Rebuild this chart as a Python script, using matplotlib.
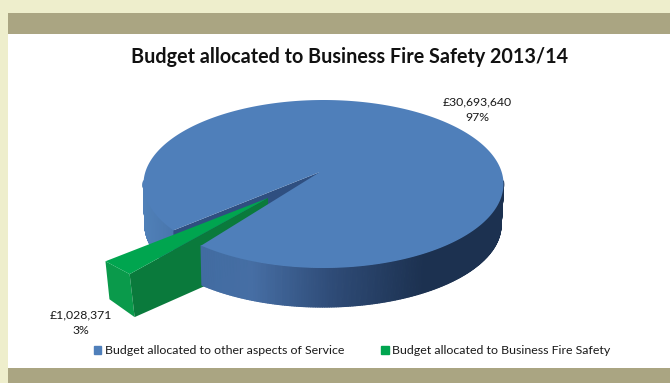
import numpy as np
import matplotlib
matplotlib.use("Agg")
import matplotlib.pyplot as plt
from matplotlib.colors import LinearSegmentedColormap
from matplotlib.patches import Patch, Rectangle
from matplotlib.collections import PolyCollection

title = "Budget allocated to Business Fire Safety 2013/14"
categories = ["Budget allocated to other aspects of Service",
              "Budget allocated to Business Fire Safety"]
values = [30693640, 1028371]
colors = ["#4f7fba", "#00a54f"]

plt.rcParams["font.family"] = ["Lato", "DejaVu Sans"]
fig = plt.figure(figsize=(6.7, 3.83), dpi=100)
ax = fig.add_axes([0, 0, 1, 1])
ax.set_xlim(0, 670)
ax.set_ylim(383, 0)
ax.axis("off")

# slide background and bands
ax.add_patch(Rectangle((0, 0), 670, 383, color="#eeeecc", lw=0))
ax.add_patch(Rectangle((8, 13), 662, 355, color="white", lw=0))
ax.add_patch(Rectangle((8, 13), 662, 21, color="#aaa582", lw=0))
ax.add_patch(Rectangle((8, 368), 662, 15, color="#aaa582", lw=0))

# tilted-disc projection of the pie (screen y grows downward)
APEX = np.array([320.0, 172.0])
TOP_C, TOP_R = np.array([323.5, 184.0]), np.array([180.0, 84.0])
BOT_C, BOT_R = np.array([323.0, 225.0]), np.array([178.0, 82.0])


def rim(center, radius, deg):
    t = np.radians(np.asarray(deg, dtype=float))
    return np.column_stack([center[0] - radius[0] * np.cos(t), center[1] + radius[1] * np.sin(t)])


def top_rim(deg):
    return rim(TOP_C, TOP_R, deg)


def bot_rim(deg):
    return rim(BOT_C, BOT_R, deg)


total = sum(values)
small_sweep = 360 * values[1] / total
cut_a = 35.5                 # upper cut, measured from the left going down
cut_b = cut_a + small_sweep  # lower cut
blue_a = cut_a - 2.0         # the large slice opens a little wider on its far side

wall_cmap = LinearSegmentedColormap.from_list(
    "wall", [(0, "#5080b8"), (0.16, "#426ca2"), (0.30, "#466ea4"), (0.52, "#2f4c78"),
             (0.78, "#1c3150"), (1, "#1c3150")])


def wall(start, end, n=240):
    th = np.linspace(start, end, n + 1)
    up, lo = top_rim(th), bot_rim(th)
    quads = [np.array([up[i], up[i + 1], lo[i + 1], lo[i]]) for i in range(n)]
    shades = [wall_cmap((up[i, 0] - 144) / 359) for i in range(n)]
    ax.add_collection(PolyCollection(quads, facecolors=shades, edgecolors=shades, linewidths=0.9))


# left piece of the blue side wall, behind the small slice
wall(-2, blue_a)

# dark radial face seen through the gap
ru = top_rim([blue_a])[0]
ax.fill([APEX[0], ru[0], ru[0], APEX[0]], [APEX[1], ru[1], ru[1] + 30, APEX[1] + 30],
        color="#2f4f80", lw=0)

# small exploded slice
G_APEX = APEX + np.array([-52.0, 26.0])
G_RIM = np.array([-71.5, 28.5])
G_DEPTH = 43.0
ga, gb = top_rim([cut_a])[0] + G_RIM, top_rim([cut_b])[0] + G_RIM
ga_d, gb_d = ga + [4, G_DEPTH - 5], gb + [5, G_DEPTH]
gap_d = G_APEX + [0, 60]
ax.fill(*zip(ga, gb, gb_d, ga_d), color="#0a9a4b", lw=0)
ax.fill(*zip(G_APEX, gb, gb_d, gap_d), color="#0a7a3c", lw=0)
ax.fill(*zip(G_APEX, ga, gb), color=colors[1], lw=0)

# front piece of the blue side wall and the blue top face
wall(cut_b, 182)
th = np.linspace(cut_b, blue_a + 360, 400)
face = np.vstack([APEX, top_rim(th)])
ax.fill(face[:, 0], face[:, 1], color=colors[0], lw=0)

# text
ink = "#1a1a1a"
ax.text(349.5, 57, title, ha="center", va="center", fontsize=14.2, fontweight="bold", color="#111111")


def label(v):
    return f"£{v:,}\n{round(100 * v / total)}%"


ax.text(477, 110, label(values[0]), ha="center", va="center", fontsize=8.8, color=ink, linespacing=1.5)
ax.text(80.5, 323, label(values[1]), ha="center", va="center", fontsize=8.8, color=ink, linespacing=1.5)

handles = [Patch(color=c) for c in colors]
ax.legend(handles, categories, loc="center", bbox_to_anchor=(352 / 670, 1 - 351 / 383), ncol=2,
          frameon=False, fontsize=8.9, handlelength=0.6, handleheight=0.6, handletextpad=0.3,
          columnspacing=3.0, labelcolor=ink)

fig.savefig("out.png", dpi=100)
